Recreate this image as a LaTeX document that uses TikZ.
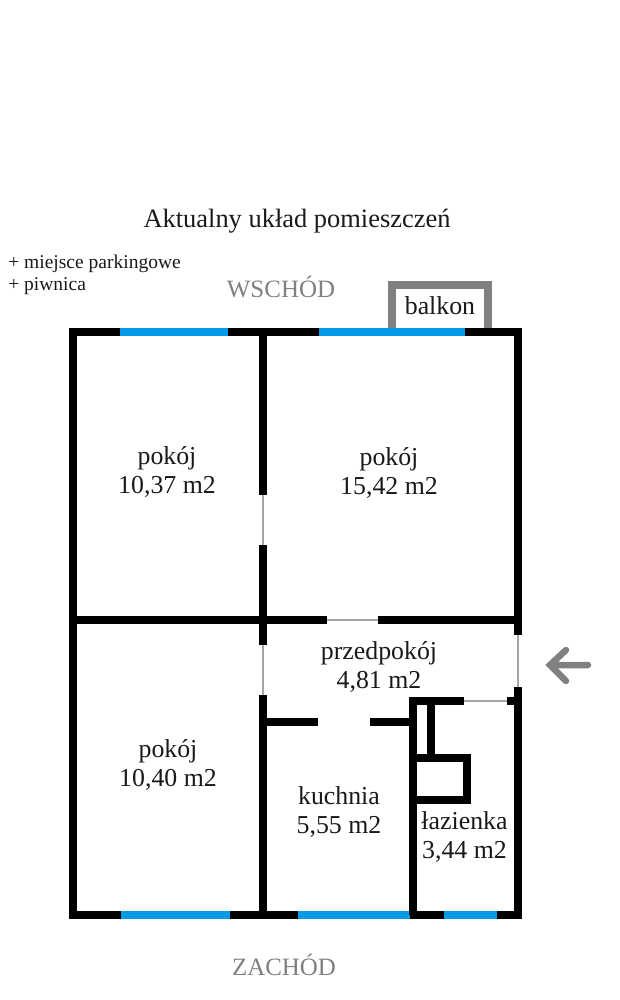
\documentclass[tikz,border=0pt]{standalone}
\usepackage{fontspec}
\setmainfont{Liberation Serif}
\usepackage{xcolor}
\usepackage{tikz}
\usetikzlibrary{positioning}
\definecolor{windowblue}{RGB}{5,155,230}
\definecolor{doorgray}{RGB}{165,165,165}
\definecolor{markgray}{RGB}{128,128,128}
\tikzstyle{wall} = [draw=black, line width=4.25pt, line cap=butt]
\tikzstyle{window} = [draw=windowblue, line width=4.25pt]
\tikzstyle{door} = [draw=doorgray, line width=1.2pt]
\tikzstyle{balcony} = [draw=markgray, line width=4pt, line join=miter]
\tikzstyle{room} = [align=center, text=black!90, font=\fontsize{14.7pt}{16.6pt}\selectfont, inner sep=0]
\tikzstyle{side} = [text=markgray, font=\fontsize{14.2pt}{17pt}\selectfont, inner sep=0]

\begin{document}
\begin{tikzpicture}[x=0.02cm, y=-0.02cm]
	  \useasboundingbox (0,0) rectangle (619,1000);

	  \node [room, name=title, font=\fontsize{15.05pt}{18pt}\selectfont] at (297,221) {Aktualny układ pomieszczeń};
	  \node [room, name=extras, align=left, anchor=west, font=\fontsize{11.1pt}{12.6pt}\selectfont] at (8,275) {+ miejsce parkingowe\\+ piwnica};
	  \node [side, name=east] at (281,287) {WSCHÓD};
	  \node [side, name=west] at (284,965) {ZACHÓD};
	  \node [room, name=terrace] at (440,306) {balkon};

	  \draw [balcony] (392,332) |- (488,285) -- (488,332);

	  \draw [wall] (73,332) rectangle (518,915);
	  \draw [draw=white, line width=5pt] (518,635) -- (518,687);
	  \draw [window] (120,332) -- (228,332);
	  \draw [window] (319,332) -- (465,332);
	  \draw [window] (121,915) -- (230,915);
	  \draw [window] (298,915) -- (410,915);
	  \draw [window] (444,915) -- (497,915);

	  \draw [wall] (263,332) -- (263,495);
	  \draw [wall] (263,545) -- (263,645);
	  \draw [wall] (263,695) -- (263,915);
	  \draw [wall] (73,620) -- (327,620);
	  \draw [wall] (378,620) -- (518,620);
	  \draw [wall] (263,722) -- (318,722);
	  \draw [wall] (370,722) -- (413,722);
	  \draw [wall] (413,697) -- (413,915);
	  \draw [wall] (409,701) -- (464,701);
	  \draw [wall] (507,701) -- (518,701);
	  \draw [wall] (431,701) -- (431,758);
	  \draw [wall] (413,758) -- (470.5,758);
	  \draw [wall] (467,754.5) -- (467,803.5);
	  \draw [wall] (413,800) -- (470.5,800);

	  \draw [door] (263,495) -- (263,545);
	  \draw [door] (263,645) -- (263,695);
	  \draw [door] (327,620) -- (378,620);
	  \draw [door, line width=1.4pt] (518,635) -- (518,687);
	  \draw [door, line width=0.9pt] (464,701) -- (507,701);

	  \coordinate (tail) at (588,665);
	  \coordinate (tip) at (550,665);
	  \draw [draw=markgray, line width=3.7pt, line cap=round, line join=miter] (566,650) -- (tip) -- (566,681) (tip) -- (tail);

	  \node [room, name=room1] at (167,472) {pokój\\10,37 m2};
	  \node [room, name=room2] at (389,473) {pokój\\15,42 m2};
	  \node [room, name=room3] at (168,765) {pokój\\10,40 m2};
	  \node [room, name=hall] at (379,667) {przedpokój\\4,81 m2};
	  \node [room, name=kitchen] at (339,812) {kuchnia\\5,55 m2};
	  \node [room, name=bath] at (464.5,837) {łazienka\\3,44 m2};
	\end{tikzpicture}
\end{document}
